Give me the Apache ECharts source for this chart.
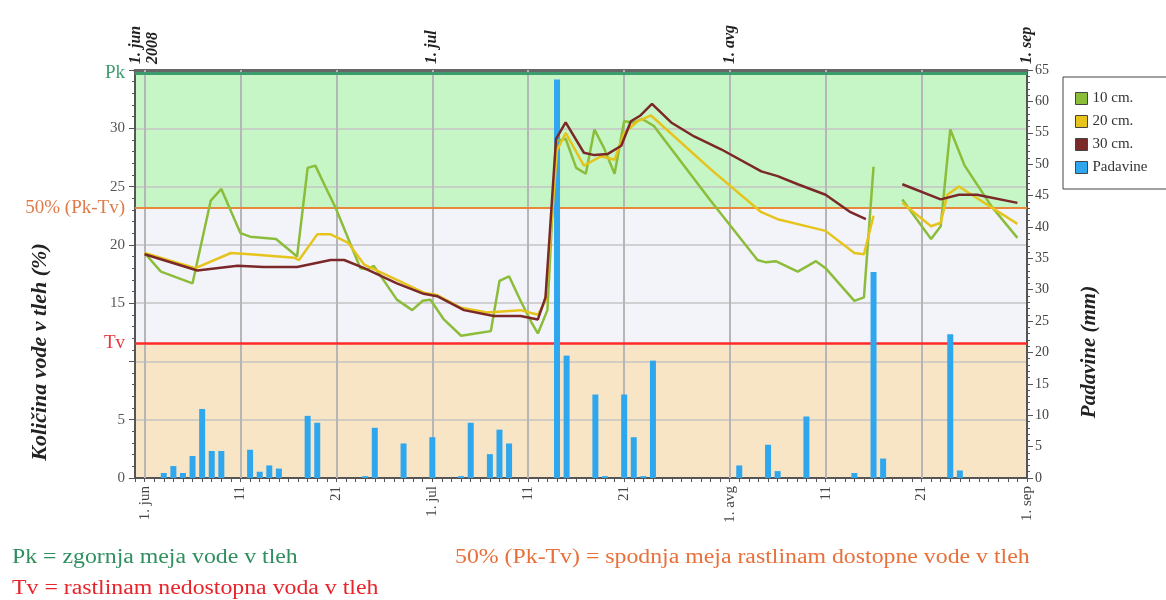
<!DOCTYPE html>
<html><head><meta charset="utf-8">
<script src="https://cdn.jsdelivr.net/npm/echarts/dist/echarts.min.js"></script>
<style>html,body{margin:0;padding:0;background:#fff}#c{width:1166px;height:600px}</style>
</head><body><div id="c"></div>
<script>
// x = days since 1 June 2008
const tickDays = [0, 10, 20, 30, 40, 50, 61, 71, 81, 92];
const tickLabels = ['1. jun', '11', '21', '1. jul', '11', '21', '1. avg', '11', '21', '1. sep'];
const monthDays = [0, 30, 61, 92];
const monthLabels = ['1. jun\n2008', '1. jul', '1. avg', '1. sep'];
const gridDays = [0, 10, 20, 30, 40, 50, 61, 71, 81];
const seriesNames = ['10 cm.', '20 cm.', '30 cm.', 'Padavine'];

const pk = 34.7;   // zgornja meja
const tv = 11.6;   // nedostopna voda

const days10 = [0, 1.7, 5, 6.9, 8, 10, 11, 13.7, 15.9, 17, 17.8, 18.9, 19.9, 22.5, 23.2, 23.9, 26.3, 27.9, 29, 29.8, 31.2, 33, 34.5, 36.1, 37, 38, 39.2, 40.3, 41, 42, 42.9, 43.9, 45, 46, 46.9, 47.9, 49, 50, 51, 51.9, 53.1, 59, 63.9, 64.8, 65.8, 68.1, 70, 71, 74, 75, 76, 77.5, 79, 82, 83, 84, 85.5, 88.3, 91];
const soil10 = [19.3, 17.7, 16.7, 23.8, 24.8, 21.0, 20.7, 20.5, 19.0, 26.6, 26.8, 24.9, 23.2, 18.0, 17.9, 18.2, 15.3, 14.4, 15.2, 15.3, 13.6, 12.2, 12.4, 12.6, 16.9, 17.3, 15.2, 13.4, 12.4, 14.4, 28.9, 29.1, 26.6, 26.1, 29.9, 28.3, 26.1, 30.6, 30.5, 30.8, 30.2, 23.8, 18.7, 18.5, 18.6, 17.7, 18.6, 18.0, 15.2, 15.5, 26.7, null, 23.9, 20.5, 21.6, 29.9, 26.8, 23.3, 20.6];

const days20 = [0, 5.3, 9, 11, 15.6, 16.1, 18, 19.4, 21.2, 22.9, 26.3, 29.1, 30.5, 33, 35.7, 39.2, 41, 41.8, 43, 43.9, 45.8, 47.6, 49, 50, 51.4, 52.8, 59, 64.3, 66, 69.5, 71, 74, 75, 76, 77.5, 79, 82, 83, 83.7, 84.9, 86.8, 91];
const soil20 = [19.3, 18.0, 19.3, 19.2, 18.9, 18.7, 20.9, 20.9, 20.2, 18.3, 17.0, 15.9, 15.7, 14.6, 14.2, 14.4, 14.0, 15.2, 28.1, 29.6, 26.8, 27.6, 27.3, 29.6, 30.6, 31.1, 26.5, 22.8, 22.2, 21.5, 21.2, 19.3, 19.2, 22.5, null, 23.6, 21.6, 21.9, 24.3, 25.0, 24.0, 21.8];

const days30 = [0, 5.5, 9.7, 12.4, 15.9, 19.4, 20.8, 22.9, 26.3, 29.1, 30.5, 33.3, 36.4, 39.2, 41, 41.8, 42.9, 43.9, 45.8, 46.9, 48.3, 49.7, 50.7, 51.7, 52.9, 54.9, 57.3, 60.1, 64.3, 66, 68.1, 71, 73.6, 75.2, 77.5, 79, 83, 84.9, 86.8, 91];
const soil30 = [19.2, 17.8, 18.2, 18.1, 18.1, 18.7, 18.7, 18.0, 16.7, 15.8, 15.6, 14.4, 13.9, 13.9, 13.6, 15.5, 29.1, 30.5, 27.9, 27.7, 27.8, 28.5, 30.6, 31.1, 32.1, 30.5, 29.3, 28.2, 26.3, 25.9, 25.2, 24.3, 22.8, 22.2, null, 25.2, 23.9, 24.3, 24.3, 23.6];

const rainDays = [2, 3, 4, 5, 6, 7, 8, 11, 12, 13, 14, 17, 18, 23, 24, 27, 30, 33, 34, 36, 37, 38, 43, 44, 47, 48, 50, 51, 52, 53, 62, 65, 66, 69, 74, 76, 77, 84, 85];
const rain = [0.8, 1.9, 0.8, 3.5, 11.0, 4.3, 4.3, 4.5, 1.0, 2.0, 1.5, 9.9, 8.8, 0.3, 8.0, 5.5, 6.5, 0.3, 8.8, 3.8, 7.7, 5.5, 63.5, 19.5, 13.3, 0.3, 13.3, 6.5, 0.3, 18.7, 2.0, 5.3, 1.1, 9.8, 0.8, 32.8, 3.1, 22.9, 1.2];

const half = (pk + tv) / 2;
const SERIF = '"Liberation Serif", "DejaVu Serif", serif';
const pairs = (xs, ys) => xs.map((x, i) => [x, ys[i] === null ? '-' : ys[i]]);
const bottomMap = {}; tickDays.forEach((d, i) => bottomMap[d] = tickLabels[i]);
const topMap = {}; monthDays.forEach((d, i) => topMap[d] = monthLabels[i]);

const chart = echarts.init(document.getElementById('c'), null, {renderer: 'canvas'});
chart.setOption({
  animation: false,
  backgroundColor: '#ffffff',
  grid: {left: 135, right: 139, top: 70, bottom: 122, containLabel: false, outerBoundsMode: 'none'},
  legend: {
    data: seriesNames, orient: 'vertical', left: 1063, top: 77,
    padding: [14, 30, 14, 12], itemGap: 8, itemWidth: 12, itemHeight: 12, icon: 'rect',
    backgroundColor: '#fff', borderColor: '#444', borderWidth: 1, borderRadius: 0,
    textStyle: {fontFamily: SERIF, fontSize: 15, color: '#333'},
    itemStyle: {borderColor: '#444', borderWidth: 1}
  },
  xAxis: [
    {type: 'value', position: 'bottom', min: -1, max: 92, interval: 1, z: 1.5,
     axisLine: {show: true, onZero: false, lineStyle: {color: '#555', width: 2}},
     axisTick: {show: true, length: 4, lineStyle: {color: '#555', width: 1}},
     axisLabel: {rotate: 90, margin: 8, fontFamily: SERIF, fontSize: 15, color: '#444',
       formatter: v => bottomMap[v] !== undefined ? bottomMap[v] : ''},
     splitLine: {show: false}},
    {type: 'value', position: 'top', min: -1, max: 92, interval: 1, z: 1.5,
     axisLine: {show: true, onZero: false, lineStyle: {color: '#666', width: 3}},
     axisTick: {show: false},
     axisLabel: {rotate: -90, margin: 6, fontFamily: SERIF, fontSize: 16, fontStyle: 'italic', fontWeight: 'bold', color: '#222',
       lineHeight: 17, formatter: v => topMap[v] !== undefined ? topMap[v] : ''},
     splitLine: {show: false}}
  ],
  yAxis: [
    {type: 'value', position: 'left', min: 0, max: 35, interval: 5, z: 1.5,
     axisLine: {show: true, onZero: false, lineStyle: {color: '#555', width: 2}},
     axisTick: {show: true, length: 6, lineStyle: {color: '#555'}},
     minorTick: {show: true, splitNumber: 5, length: 3, lineStyle: {color: '#555'}},
     axisLabel: {fontFamily: SERIF, fontSize: 15, color: '#555', margin: 10,
       formatter: v => (v === 10 || v === 35) ? '' : String(v)},
     splitLine: {show: true, lineStyle: {color: '#c4c4c4', width: 1.5}}},
    {type: 'value', position: 'right', min: 0, max: 65, interval: 5, z: 1.5,
     axisLine: {show: true, onZero: false, lineStyle: {color: '#555', width: 2}},
     axisTick: {show: true, length: 6, lineStyle: {color: '#555'}},
     minorTick: {show: true, splitNumber: 5, length: 3, lineStyle: {color: '#555'}},
     axisLabel: {fontFamily: SERIF, fontSize: 14, color: '#444', margin: 8},
     splitLine: {show: false}}
  ],
  graphic: [
    {type: 'text', x: 40, y: 352, rotation: Math.PI / 2,
     style: {text: 'Količina vode v tleh (%)', font: 'italic bold 22px ' + SERIF, fill: '#222', align: 'center', verticalAlign: 'middle'}},
    {type: 'text', x: 1090, y: 352, rotation: Math.PI / 2,
     style: {text: 'Padavine (mm)', font: 'italic bold 21px ' + SERIF, fill: '#222', align: 'center', verticalAlign: 'middle'}},
    {type: 'text', x: 12, y: 558, scaleX: 1.19,
     style: {text: 'Pk = zgornja meja vode v tleh', font: '20px ' + SERIF, fill: '#2f8f5f', verticalAlign: 'middle'}},
    {type: 'text', x: 12, y: 589, scaleX: 1.19,
     style: {text: 'Tv = rastlinam nedostopna voda v tleh', font: '20px ' + SERIF, fill: '#e8242a', verticalAlign: 'middle'}},
    {type: 'text', x: 455, y: 558, scaleX: 1.19,
     style: {text: '50% (Pk-Tv) = spodnja meja rastlinam dostopne vode v tleh', font: '20px ' + SERIF, fill: '#e8703a', verticalAlign: 'middle'}}
  ],
  series: [
    {type: 'line', name: 'bands', data: [], xAxisIndex: 0, yAxisIndex: 0, silent: true,
     markArea: {silent: true, z: 1, data: [
       [{yAxis: 0, itemStyle: {color: '#f8e5c6'}}, {yAxis: tv}],
       [{yAxis: tv, itemStyle: {color: '#f3f3fa'}}, {yAxis: half}],
       [{yAxis: half, itemStyle: {color: '#c6f5c6'}}, {yAxis: 35}]
     ]},
     markLine: {silent: true, z: 1.6, symbol: 'none', label: {show: false},
       lineStyle: {color: '#b6b6b6', width: 2, type: 'solid'},
       data: gridDays.map(d => ({xAxis: d}))}},
    {type: 'line', name: 'limits', data: [], xAxisIndex: 0, yAxisIndex: 0, silent: true,
     markLine: {silent: true, z: 1.8, symbol: 'none', precision: 3,
       label: {show: true, position: 'start', distance: 10, fontFamily: SERIF, fontSize: 19},
       lineStyle: {type: 'solid'},
       data: [
         {yAxis: pk, lineStyle: {color: '#3d9c6e', width: 3}, label: {formatter: 'Pk', color: '#3d9c6e'}},
         {yAxis: half, lineStyle: {color: '#e8883a', width: 2}, label: {formatter: '50% (Pk-Tv)', color: '#e07a48'}},
         {yAxis: tv, lineStyle: {color: '#ff2a2a', width: 2.5}, label: {formatter: 'Tv', color: '#e8343a'}}
       ]}},
    {type: 'bar', name: 'Padavine', xAxisIndex: 0, yAxisIndex: 1, barWidth: 6, z: 2,
     itemStyle: {color: '#2ea7ee'}, data: pairs(rainDays, rain)},
    {type: 'line', name: '10 cm.', xAxisIndex: 0, yAxisIndex: 0, z: 3, showSymbol: false, connectNulls: false,
     itemStyle: {color: '#8cbd3a'}, lineStyle: {color: '#8cbd3a', width: 2.5}, data: pairs(days10, soil10)},
    {type: 'line', name: '20 cm.', xAxisIndex: 0, yAxisIndex: 0, z: 3, showSymbol: false, connectNulls: false,
     itemStyle: {color: '#e6c41c'}, lineStyle: {color: '#e6c41c', width: 2.5}, data: pairs(days20, soil20)},
    {type: 'line', name: '30 cm.', xAxisIndex: 0, yAxisIndex: 0, z: 3, showSymbol: false, connectNulls: false,
     itemStyle: {color: '#7b2828'}, lineStyle: {color: '#7b2828', width: 2.5}, data: pairs(days30, soil30)}
  ]
});
</script>
</body></html>
